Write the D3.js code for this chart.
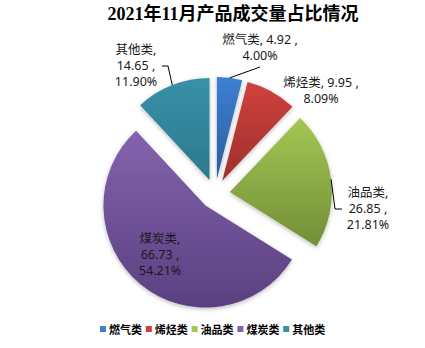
<!DOCTYPE html>
<html><head><meta charset="utf-8">
<script src="https://cdn.jsdelivr.net/npm/d3@7"></script>
<style>
html,body{margin:0;padding:0;background:#fff;}
svg{display:block;}
</style>
</head><body>
<script>
const categories = ["燃气类","烯烃类","油品类","煤炭类","其他类"];
const values = [4.92, 9.95, 26.85, 66.73, 14.65];
const percents = ["4.00%","8.09%","21.81%","54.21%","11.90%"];
const valueLabels = ["4.92","9.95","26.85","66.73","14.65"];
const title = "2021年11月产品成交量占比情况";

const colorsTop = ["#3E80D3","#D0413D","#A3C754","#8463AE","#3890A8"];
const colorsBot = ["#2C5C9B","#9E2F2C","#728E37","#5A4080","#2C798D"];

const W = 425, H = 348;
const cx = 215, cy = 194, R = 102, explode = 15;

const svg = d3.select("body").append("svg").attr("width", W).attr("height", H);
const defs = svg.append("defs");
const f = defs.append("filter").attr("id","sh").attr("x","-20%").attr("y","-20%").attr("width","140%").attr("height","140%");
f.append("feDropShadow").attr("dx",0).attr("dy",1.5).attr("stdDeviation",2).attr("flood-color","#000").attr("flood-opacity",0.28);

categories.forEach((c,i)=>{
  const g = defs.append("linearGradient").attr("id","g"+i).attr("x1",0).attr("y1",0).attr("x2",0).attr("y2",1);
  g.append("stop").attr("offset","0%").attr("stop-color",colorsTop[i]);
  g.append("stop").attr("offset","100%").attr("stop-color",colorsBot[i]);
});

// title
svg.append("text").attr("x",233).attr("y",20).attr("text-anchor","middle")
  .attr("font-family","'Liberation Serif','Noto Sans CJK SC',serif").attr("font-weight","bold")
  .attr("font-size",18).attr("fill","#000").text(title);

const pie = d3.pie().sort(null).value(d=>d).startAngle(0).endAngle(2*Math.PI);
const arcs = pie(values);
const arc = d3.arc().innerRadius(0).outerRadius(R);

function offset(a, d){
  const m = (a.startAngle + a.endAngle)/2;
  return [Math.sin(m)*d, -Math.cos(m)*d];
}

const g = svg.append("g").attr("transform",`translate(${cx},${cy})`);
g.selectAll("path").data(arcs).enter().append("path")
  .attr("d", arc)
  .attr("transform", d=>{const o=offset(d,explode); return `translate(${o[0]},${o[1]})`;})
  .attr("fill",(d,i)=>`url(#g${i})`)
  .attr("filter","url(#sh)");

// labels
const labelLines = [
  [categories[0]+", "+valueLabels[0]+" ,", percents[0]],
  [categories[1]+", "+valueLabels[1]+" ,", percents[1]],
  [categories[2]+",", valueLabels[2]+" ,", percents[2]],
  [categories[3]+",", valueLabels[3]+" ,", percents[3]],
  [categories[4]+",", valueLabels[4]+" ,", percents[4]]
];
const labelPos = [[260,44],[321,87],[368,197],[160,243],[136,54]];
const lh = 16;
labelLines.forEach((lines,i)=>{
  const t = svg.append("text").attr("text-anchor","middle")
    .attr("font-family","'Noto Sans','Noto Sans CJK SC',sans-serif")
    .attr("font-size",12.5).attr("fill","#1a1a1a");
  lines.forEach((l,j)=>{
    t.append("tspan").attr("x",labelPos[i][0]).attr("y",labelPos[i][1]+j*lh).text(l);
  });
});

// leader lines
function arcPoint(i){
  const a = arcs[i];
  const o = offset(a, explode + R);
  return [cx+o[0], cy+o[1]];
}
const line = d3.line();
const lead = svg.append("g").attr("fill","none").attr("stroke","#000").attr("stroke-width",1);
{ const p = arcPoint(0); lead.append("path").attr("d", line([[p[0],p[1]],[260,67]])); }
{ const p = arcPoint(4); lead.append("path").attr("d", line([[162,66],[168,66],[p[0],p[1]]])); }
{ const p = arcPoint(2); lead.append("path").attr("d", line([[p[0],p[1]],[335,209],[342,209]])); }

// legend
const lg = svg.append("g");
categories.forEach((c,i)=>{
  const x = 100 + i*45.8;
  lg.append("rect").attr("x",x).attr("y",326).attr("width",6).attr("height",6).attr("fill",colorsTop[i]);
  lg.append("text").attr("x",x+9).attr("y",333.5)
    .attr("font-family","'Noto Sans CJK SC',sans-serif").attr("font-weight","bold")
    .attr("font-size",11).attr("fill","#000").text(c);
});
</script>
</body></html>
